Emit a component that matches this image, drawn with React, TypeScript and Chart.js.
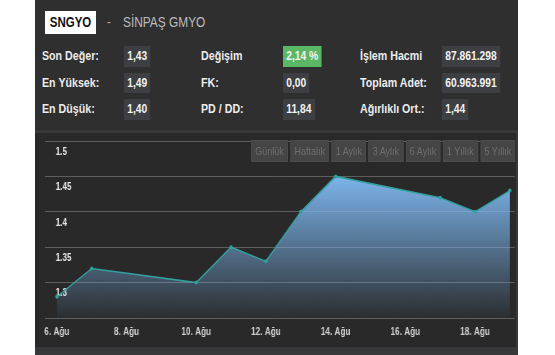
import React, { useEffect, useRef } from "react";
import { Chart, registerables } from "chart.js";

Chart.register(...registerables);

// ---- data ----
const symbol = "SNGYO";
const companyName = "SİNPAŞ GMYO";
const days = [6, 7, 10, 11, 12, 13, 14, 17, 18, 19];
const prices = [1.28, 1.32, 1.3, 1.35, 1.33, 1.4, 1.45, 1.42, 1.4, 1.43];
const xTicks = [6, 8, 10, 12, 14, 16, 18];
const monthLabel = "Ağu";
const yTicks = [1.25, 1.3, 1.35, 1.4, 1.45, 1.5];
const yTickLabels = ["", "1.3", "1.35", "1.4", "1.45", "1.5"];
const rangeButtons = ["Günlük", "Haftalık", "1 Aylık", "3 Aylık", "6 Aylık", "1 Yıllık", "5 Yıllık"];

const col1Labels = ["Son Değer:", "En Yüksek:", "En Düşük:"];
const col1Values = ["1,43", "1,49", "1,40"];
const col2Labels = ["Değişim", "FK:", "PD / DD:"];
const col2Values = ["2,14 %", "0,00", "11,84"];
const col3Labels = ["İşlem Hacmi", "Toplam Adet:", "Ağırlıklı Ort.:"];
const col3Values = ["87.861.298", "60.963.991", "1,44"];

const FONT = '"Liberation Sans", Arial, sans-serif';
const SX = 0.82; // horizontal squeeze of the reference rendering

const rowTop = (i: number) => 46 + i * 26.5;

const squeeze = (origin = "0 50%") => ({ transform: `scaleX(${SX})`, transformOrigin: origin });

function Stat({ label, value, lx, vx, top, green }: any) {
  return (
    <>
      <div
        style={{
          position: "absolute",
          left: lx,
          top,
          height: 20.5,
          lineHeight: "20.5px",
          fontFamily: FONT,
          fontWeight: "bold",
          fontSize: 13,
          color: "#ececec",
          whiteSpace: "nowrap",
          ...squeeze(),
        }}
      >
        {label}
      </div>
      <div
        style={{
          position: "absolute",
          left: vx,
          top,
          height: 20.5,
          lineHeight: "20.5px",
          padding: "0 4px",
          background: green ? "#5ab865" : "#3d3f42",
          fontFamily: FONT,
          fontWeight: "bold",
          fontSize: 12.5,
          color: "#f2f2f2",
          whiteSpace: "nowrap",
          ...squeeze(),
        }}
      >
        {value}
      </div>
    </>
  );
}

const CW = 483; // displayed canvas width
const CH = 214;

export default function App() {
  const canvasRef = useRef<HTMLCanvasElement | null>(null);

  useEffect(() => {
    document.body.style.margin = "0";
    const canvas = canvasRef.current;
    if (!canvas) return;
    const chart = new Chart(canvas, {
      type: "line",
      data: {
        datasets: [
          {
            data: days.map((d, i) => ({ x: d, y: prices[i] })),
            borderColor: "#34a09e",
            borderWidth: 1.5,
            pointRadius: 2,
            pointBackgroundColor: "#34a09e",
            pointBorderColor: "#34a09e",
            pointBorderWidth: 0,
            tension: 0,
            fill: "start",
            backgroundColor: (ctx: any) => {
              const ch = ctx.chart;
              const area = ch.chartArea;
              if (!area) return "rgba(124,181,236,0.5)";
              const top = ch.scales.y.getPixelForValue(Math.max(...prices));
              const g = ch.ctx.createLinearGradient(0, top, 0, area.bottom);
              g.addColorStop(0, "rgba(124,181,236,1)");
              g.addColorStop(1, "rgba(124,181,236,0.04)");
              return g;
            },
          },
        ],
      },
      options: {
        animation: false,
        responsive: false,
        devicePixelRatio: 1,
        layout: { padding: { left: 10 / SX, right: 3 / SX, top: 8, bottom: 0 } },
        plugins: { legend: { display: false }, tooltip: { enabled: false } },
        scales: {
          x: {
            type: "linear",
            min: 5.66,
            max: 19.14,
            afterBuildTicks: (axis: any) => {
              axis.ticks = xTicks.map((v) => ({ value: v }));
            },
            afterFit: (s: any) => {
              s.height = 29;
              s.paddingLeft = 0;
              s.paddingRight = 0;
            },
            grid: { display: false, drawTicks: false },
            border: { display: false },
            ticks: {
              autoSkip: false,
              maxRotation: 0,
              padding: 8,
              color: "#d2d2d2",
              font: { family: FONT, size: 10, weight: "bold" },
              callback: (v: any) => `${v}. ${monthLabel}`,
            },
          },
          y: {
            type: "linear",
            min: 1.25,
            max: 1.5,
            afterBuildTicks: (axis: any) => {
              axis.ticks = yTicks.map((v) => ({ value: v }));
            },
            afterFit: (s: any) => {
              s.width = 0;
              s.paddingTop = 0;
              s.paddingBottom = 0;
            },
            grid: { color: "#5e5e5e", lineWidth: 1, drawTicks: false },
            border: { display: false },
            ticks: {
              mirror: true,
              padding: 13,
              labelOffset: 11,
              color: "#e8e8e8",
              font: { family: FONT, size: 10, weight: "bold" },
              callback: (v: any, i: number) => yTickLabels[i] ?? "",
            },
          },
        },
      },
    } as any);
    return () => chart.destroy();
  }, []);

  return (
    <div style={{ position: "relative", width: 555, height: 355, background: "#ffffff", overflow: "hidden" }}>
      <div style={{ position: "absolute", left: 35, top: 0, width: 483, height: 355, background: "#38383b" }} />
      <div style={{ position: "absolute", left: 35, top: 0, width: 483, height: 130, background: "#2f2f30" }} />
      {/* header */}
      <div
        style={{
          position: "absolute",
          left: 45,
          top: 11,
          width: 51,
          height: 23,
          background: "#ffffff",
        }}
      />
      <div
        style={{
          position: "absolute",
          left: 45,
          top: 11,
          width: 51 / SX,
          height: 23,
          lineHeight: "23px",
          textAlign: "center",
          fontFamily: FONT,
          fontWeight: "bold",
          fontSize: 14,
          color: "#111",
          ...squeeze(),
        }}
      >
        {symbol}
      </div>
      <div style={{ position: "absolute", left: 107, top: 11, lineHeight: "23px", fontFamily: FONT, fontSize: 14, color: "#aaaaaa", ...squeeze() }}>-</div>
      <div
        style={{
          position: "absolute",
          left: 123,
          top: 11,
          lineHeight: "23px",
          fontFamily: FONT,
          fontSize: 14.5,
          color: "#bcbcbc",
          whiteSpace: "nowrap",
          ...squeeze(),
        }}
      >
        {companyName}
      </div>
      {col1Labels.map((l, i) => (
        <Stat key={"a" + i} label={l} value={col1Values[i]} lx={42} vx={124} top={rowTop(i)} />
      ))}
      {col2Labels.map((l, i) => (
        <Stat key={"b" + i} label={l} value={col2Values[i]} lx={201} vx={283} top={rowTop(i)} green={i === 0} />
      ))}
      {col3Labels.map((l, i) => (
        <Stat key={"c" + i} label={l} value={col3Values[i]} lx={360} vx={442} top={rowTop(i)} />
      ))}
      {/* chart panel */}
      <div style={{ position: "absolute", left: 35, top: 133, width: 481, height: 214, background: "#29292a" }} />
      <canvas
        ref={canvasRef}
        width={Math.round(CW / SX)}
        height={CH}
        style={{ position: "absolute", left: 35, top: 133, width: CW, height: CH, display: "block" }}
      />
      <div style={{ position: "absolute", right: 555 - 515, top: 140, display: "flex", gap: 3, ...squeeze("100% 50%") }}>
        {rangeButtons.map((b) => (
          <div
            key={b}
            style={{
              height: 22,
              lineHeight: "20px",
              padding: "0 4px",
              background: "#454546",
              border: "1px solid #4c4c4d",
              boxSizing: "border-box",
              fontFamily: FONT,
              fontSize: 11,
              color: "#6f6f6f",
              whiteSpace: "nowrap",
            }}
          >
            {b}
          </div>
        ))}
      </div>
    </div>
  );
}
